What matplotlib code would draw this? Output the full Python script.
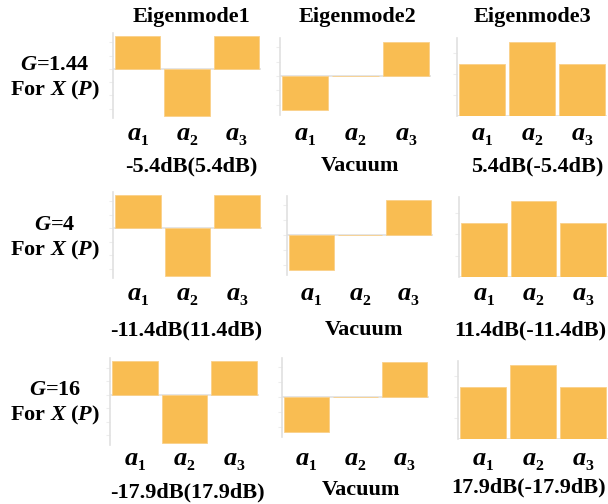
import matplotlib
matplotlib.use('Agg')
import matplotlib.pyplot as plt

plt.rcParams['font.family'] = ['Liberation Serif', 'DejaVu Serif']
plt.rcParams['font.weight'] = 'bold'
plt.rcParams['mathtext.fontset'] = 'custom'
plt.rcParams['mathtext.it'] = 'Liberation Serif:italic:bold'
plt.rcParams['mathtext.rm'] = 'Liberation Serif:bold'
plt.rcParams['mathtext.bf'] = 'Liberation Serif:bold'

# данные
modes = ['a1', 'a2', 'a3']
tick_labels = ['$a$\u2081', '$a$\u2082', '$a$\u2083']
mode1 = [0.5, -0.707, 0.5]
mode2 = [-0.707, 0.0, 0.707]
mode3 = [0.5, 0.707, 0.5]
col_titles = ['Eigenmode1', 'Eigenmode2', 'Eigenmode3']
gains = ['1.44', '4', '16']
squeeze_x = ['-5.4dB(5.4dB)', '-11.4dB(11.4dB)', '-17.9dB(17.9dB)']
squeeze_3 = ['5.4dB(-5.4dB)', '11.4dB(-11.4dB)', '17.9dB(-17.9dB)']

W, H = 608, 504
bar_color = '#F9BD52'
line_color = '#E0E0E0'

fig = plt.figure(figsize=(W / 100, H / 100), dpi=100)

# рамки ячеек в пикселях: (left, top, right, bottom)
boxes = [
    [(113, 33, 261, 118), (280, 38, 431, 115), (457, 38, 607, 116)],
    [(113, 192, 262, 278), (287, 196, 433, 275), (459, 197, 608, 277)],
    [(110, 358, 259, 445), (282, 358, 429, 437), (458, 361, 608, 439)],
]
label_top = [124, 284, 449]
ylims = [(-0.74, 0.54), (-0.81, 0.79), (0, 0.745)]
yticks = [[-0.6, -0.4, -0.2, 0, 0.2, 0.4], [-0.6, -0.3, 0, 0.3, 0.6], [0.2, 0.4, 0.6]]
data = [mode1, mode2, mode3]

for r in range(3):
    for c in range(3):
        l, t, rr, b = boxes[r][c]
        ax = fig.add_axes([l / W, 1 - b / H, (rr - l) / W, (b - t) / H])
        x = range(len(modes))
        ax.bar(x, data[c], width=0.92, color=bar_color, edgecolor='#FAD08A',
               linewidth=0.6, zorder=2)
        ax.axhline(0, color=line_color, lw=1.2, zorder=1)
        ax.set_xlim(-0.5, 2.5)
        ax.set_ylim(*ylims[c])
        for s in ['top', 'right', 'bottom']:
            ax.spines[s].set_visible(False)
        ax.spines['left'].set_color(line_color)
        ax.spines['left'].set_linewidth(1.2)
        ax.set_yticks(yticks[c])
        ax.tick_params(axis='y', length=3, color='#EDEDED', labelleft=False)
        ax.set_xticks(list(x))
        ax.set_xticklabels(tick_labels, fontsize=19)
        ax.tick_params(axis='x', length=0, pad=(label_top[r] - b) * 0.72)

# заголовки столбцов
for x0, txt in zip([191, 357, 532], col_titles):
    fig.text(x0 / W, 1 - 17 / H, txt, ha='center', va='center',
             fontsize=16, fontweight='bold')

# подписи строк
row_y = [(65, 90), (225, 250), (390, 415)]
for g, (y1, y2) in zip(gains, row_y):
    fig.text(55 / W, 1 - y1 / H, '$G$=' + g, ha='center', va='center',
             fontsize=16, fontweight='bold')
    fig.text(55 / W, 1 - y2 / H, 'For $X$ ($P$)', ha='center', va='center',
             fontsize=16, fontweight='bold')

# подписи под графиками
bottom_pos = [
    [(191, 166), (360, 166), (537, 166)],
    [(186, 330), (364, 330), (530, 330)],
    [(187, 492), (361, 490), (529, 487)],
]
for r in range(3):
    texts = [squeeze_x[r], 'Vacuum', squeeze_3[r]]
    for (x0, y0), txt in zip(bottom_pos[r], texts):
        fig.text(x0 / W, 1 - y0 / H, txt, ha='center', va='center',
                 fontsize=16, fontweight='bold')

fig.savefig('out.png', dpi=100)
